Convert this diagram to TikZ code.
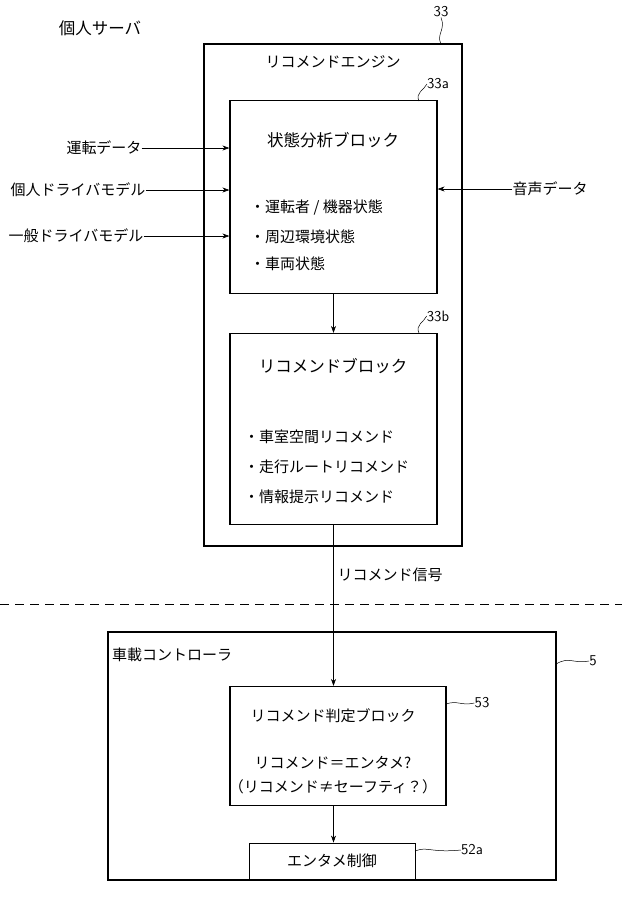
\documentclass[tikz,border=0pt]{standalone}
\usepackage{fontspec}
\newfontfamily\cjk{Noto Sans CJK JP}
\usetikzlibrary{arrows.meta}
\begin{document}
\begin{tikzpicture}[x=1pt,y=-1pt,
  box/.style={draw,line width=1.2pt},
  lbl/.style={font=\cjk\fontsize{15}{17}\selectfont,inner sep=0pt},
  hd/.style={font=\cjk\fontsize{16.5}{18}\selectfont,inner sep=0pt},
  num/.style={font=\sffamily\fontsize{15}{16}\selectfont,inner sep=0pt},
  arr/.style={-{Stealth[length=7pt,width=5pt]},line width=0.6pt},
  lead/.style={line width=0.5pt}]
\useasboundingbox (0,0) rectangle (622,898);
\node[hd] (srv) at (100,28) {個人サーバ};
\draw[box] (204,44) rectangle (462,546);
\node[num] (n33) at (441,12) {33};
\draw[lead] (441,44) .. controls (436,34) and (446,30) .. (n33.south);
\node[lbl] (eng) at (333,62) {リコメンドエンジン};
\node[box,minimum width=207,minimum height=193,inner sep=0pt] (a) at (333.5,197) {};
\node[num] (n33a) at (438,84) {33a};
\draw[lead] (419,101) .. controls (415,93) and (424,90) .. (n33a.west);
\node[hd] at (333,140) {状態分析ブロック};
\node[lbl,anchor=west] at (250,207) {・運転者 / 機器状態};
\node[lbl,anchor=west] at (250,237) {・周辺環境状態};
\node[lbl,anchor=west] at (250,264) {・車両状態};
\node[lbl] (in1) at (104,148) {運転データ};
\node[lbl] (in2) at (78,190) {個人ドライバモデル};
\node[lbl] (in3) at (76,236) {一般ドライバモデル};
\node[lbl] (in4) at (550,189) {音声データ};
\draw[arr] (in1.east) -- (a.west |- in1.east);
\draw[arr] (in2.east) -- (a.west |- in2.east);
\draw[arr] (in3.east) -- (a.west |- in3.east);
\draw[arr] (in4.west) -- (a.east |- in4.west);
\node[box,minimum width=207,minimum height=191,inner sep=0pt] (b) at (333.5,429) {};
\draw[arr] (a.south) -- (b.north);
\node[num] (n33b) at (438,316) {33b};
\draw[lead] (419,333) .. controls (415,325) and (424,322) .. (n33b.west);
\node[hd] at (333,366) {リコメンドブロック};
\node[lbl,anchor=west] at (244,437) {・車室空間リコメンド};
\node[lbl,anchor=west] at (244,467) {・走行ルートリコメンド};
\node[lbl,anchor=west] at (244,497) {・情報提示リコメンド};
\draw[dash pattern=on 9pt off 6pt,line width=0.8pt] (0,604) -- (622,604);
\draw[box] (108,632) rectangle (556,880);
\node[lbl] at (172,655) {車載コントローラ};
\node[num] (n5) at (593,661) {5};
\draw[lead] (556,664) .. controls (570,656) and (572,664) .. (n5.west);
\node[box,minimum width=216,minimum height=119,inner sep=0pt] (c) at (338,746) {};
\node[num] (n53) at (482,703) {53};
\draw[lead] (446,704) .. controls (458,700) and (460,706) .. (n53.west);
\draw[arr] (b.south) -- (c.north -| b.south);
\node[lbl] (sig) at (390,575) {リコメンド信号};
\node[lbl] at (333,716) {リコメンド判定ブロック};
\node[lbl] at (333,763) {リコメンド＝エンタメ?};
\node[lbl] at (333,787) {（リコメンド≠セーフティ？）};
\node[box,line width=0.9pt,minimum width=166,minimum height=36,inner sep=0pt] (d) at (332,861) {};
\node[lbl] at (d) {エンタメ制御};
\draw[arr] (c.south -| b.south) -- (d.north -| b.south);
\node[num] (n52) at (472,850) {52a};
\draw[lead] (415,851) .. controls (428,846) and (430,853) .. (n52.west);
\end{tikzpicture}
\end{document}
